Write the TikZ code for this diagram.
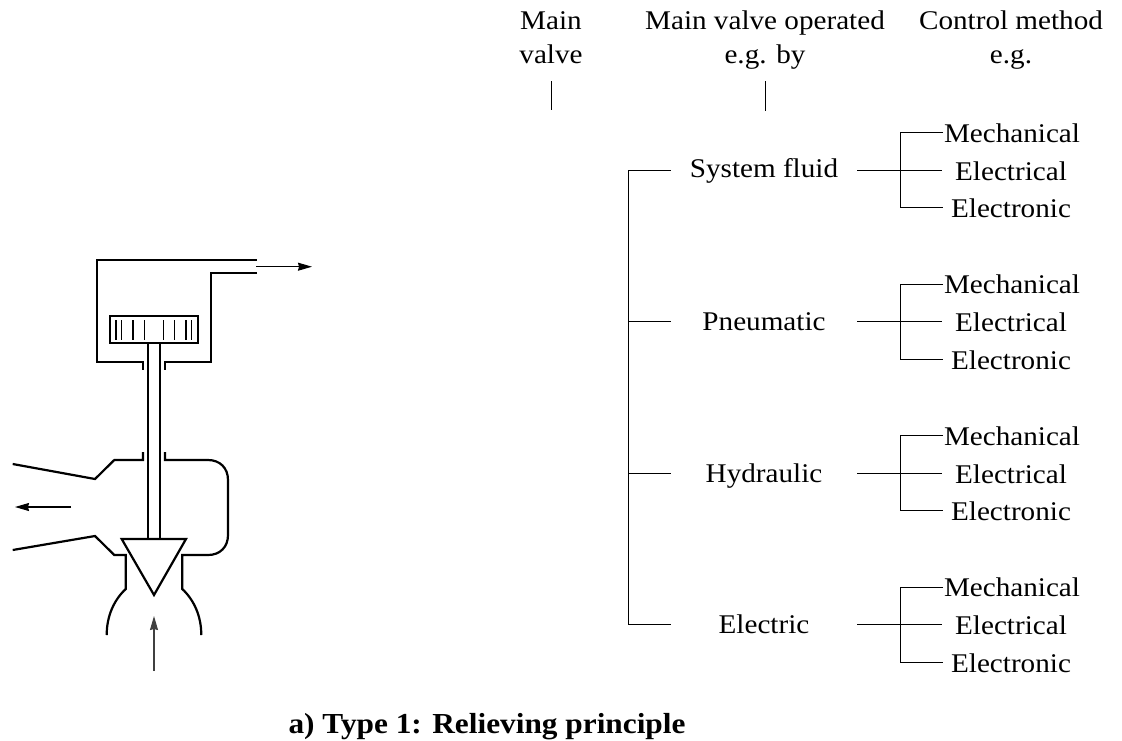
\documentclass[tikz,border=0pt]{standalone}
\usepackage{fontspec}
\setmainfont[FakeStretch=1.08]{Liberation Serif}
\usetikzlibrary{arrows.meta}
\tikzset{
  x=1pt,y=-1pt,
  valve/.style={line width=2.2pt,line join=miter,line cap=butt},
  hatch/.style={line width=1.1pt},
  flow/.style={line width=1.1pt,-{Stealth[length=14pt,width=8pt,inset=1pt]}},
  tree/.style={line width=1pt},
  lbl/.style={inner sep=0pt,anchor=base,font=\fontsize{27}{27}\selectfont},
  captext/.style={inner sep=0pt,anchor=base,font=\fontsize{29}{29}\selectfont\bfseries},
}
\begin{document}
\begin{tikzpicture}
\useasboundingbox (0,0) rectangle (1122,740);
% valve
\draw[valve] (257,273) -- (210.7,273) -- (210.7,362) -- (165,362) -- (165,370);
\draw[valve] (257,260) -- (97,260) -- (97,362) -- (143,362) -- (143,370);
\draw[valve] (110,316) rectangle (198,343);
\foreach \hx in {116,121.7,133,144.3,163.3,174.7,186,191.7}
  \draw[hatch] (\hx,320) -- (\hx,340);
\draw[valve] (148.3,343) -- (148.3,539);
\draw[valve] (159.7,343) -- (159.7,539);
\draw[valve] (143,452) -- (143,460) -- (114.3,460) -- (95,479) -- (12.7,464);
\draw[valve] (165,452) -- (165,460) -- (208,460) .. controls (220,460) and (228,468) .. (228,480) -- (228,535) .. controls (228,547) and (220,555) .. (208,555) -- (182.3,555) -- (182.3,589) .. controls (194,600) and (201.3,616) .. (201.3,635);
\draw[valve] (12.7,550) -- (95,536) -- (114.3,555) -- (125.7,555) -- (125.7,589) .. controls (114,600) and (106.7,616) .. (106.7,635);
\draw[valve,line join=miter] (121.7,539) -- (186,539) -- (154,595) -- cycle;
\coordinate (outA) at (256,266.7);
\coordinate (outB) at (312,266.7);
\coordinate (sideA) at (71,507);
\coordinate (sideB) at (15,507);
\coordinate (inA) at (154,671);
\coordinate (inB) at (154,616);
\draw[flow] (outA) -- (outB);
\draw[flow] (sideA) -- (sideB);
\draw[flow,draw=black!75,fill=black!75] (inA) -- (inB);
% headers
\node[lbl] (h1a) at (551,29) {Main};
\node[lbl] (h1b) at (551,63) {valve};
\node[lbl] (h2a) at (765,29) {Main valve operated};
\node[lbl] (h2b) at (765,63) {e.g. by};
\node[lbl] (h3a) at (1011,29) {Control method};
\node[lbl] (h3b) at (1011,63) {e.g.};
\coordinate (t1) at (551.5,81);
\coordinate (t1e) at (551.5,110);
\coordinate (t2) at (765,81);
\coordinate (t2e) at (765,111);
\draw[tree] (t1) -- (t1e);
\draw[tree] (t2) -- (t2e);
% trunk
\coordinate (trTop) at (628,170);
\coordinate (trBot) at (628,624);
\draw[tree] (trTop) -- (trBot);
\foreach \nm/\txt/\yy/\dy in {a/System fluid/170/7,b/Pneumatic/321.5/9,c/Hydraulic/473/9,d/Electric/624.5/9}{
  \node[lbl] (op\nm) at (764,\yy+\dy) {\txt};
  \coordinate (st\nm) at (628,\yy);
  \coordinate (se\nm) at (671,\yy);
  \draw[tree] (st\nm) -- (se\nm);
  \coordinate (ou\nm) at (857,\yy);
  \coordinate (in\nm) at (942,\yy);
  \draw[tree] (ou\nm) -- (in\nm);
  \node[lbl] (me\nm) at (1012,\yy-28) {Mechanical};
  \node[lbl] (el\nm) at (1011,\yy+10) {Electrical};
  \node[lbl] (ec\nm) at (1011,\yy+47.5) {Electronic};
  \coordinate (bt\nm) at (900,\yy-37.5);
  \coordinate (bb\nm) at (900,\yy+37.5);
  \coordinate (bte\nm) at (943,\yy-37.5);
  \coordinate (bbe\nm) at (943,\yy+37.5);
  \draw[tree] (bte\nm) -- (bt\nm) -- (bb\nm) -- (bbe\nm);
}
\node[captext] (caption) at (487,733) {a) Type 1: Relieving principle};
\end{tikzpicture}
\end{document}
